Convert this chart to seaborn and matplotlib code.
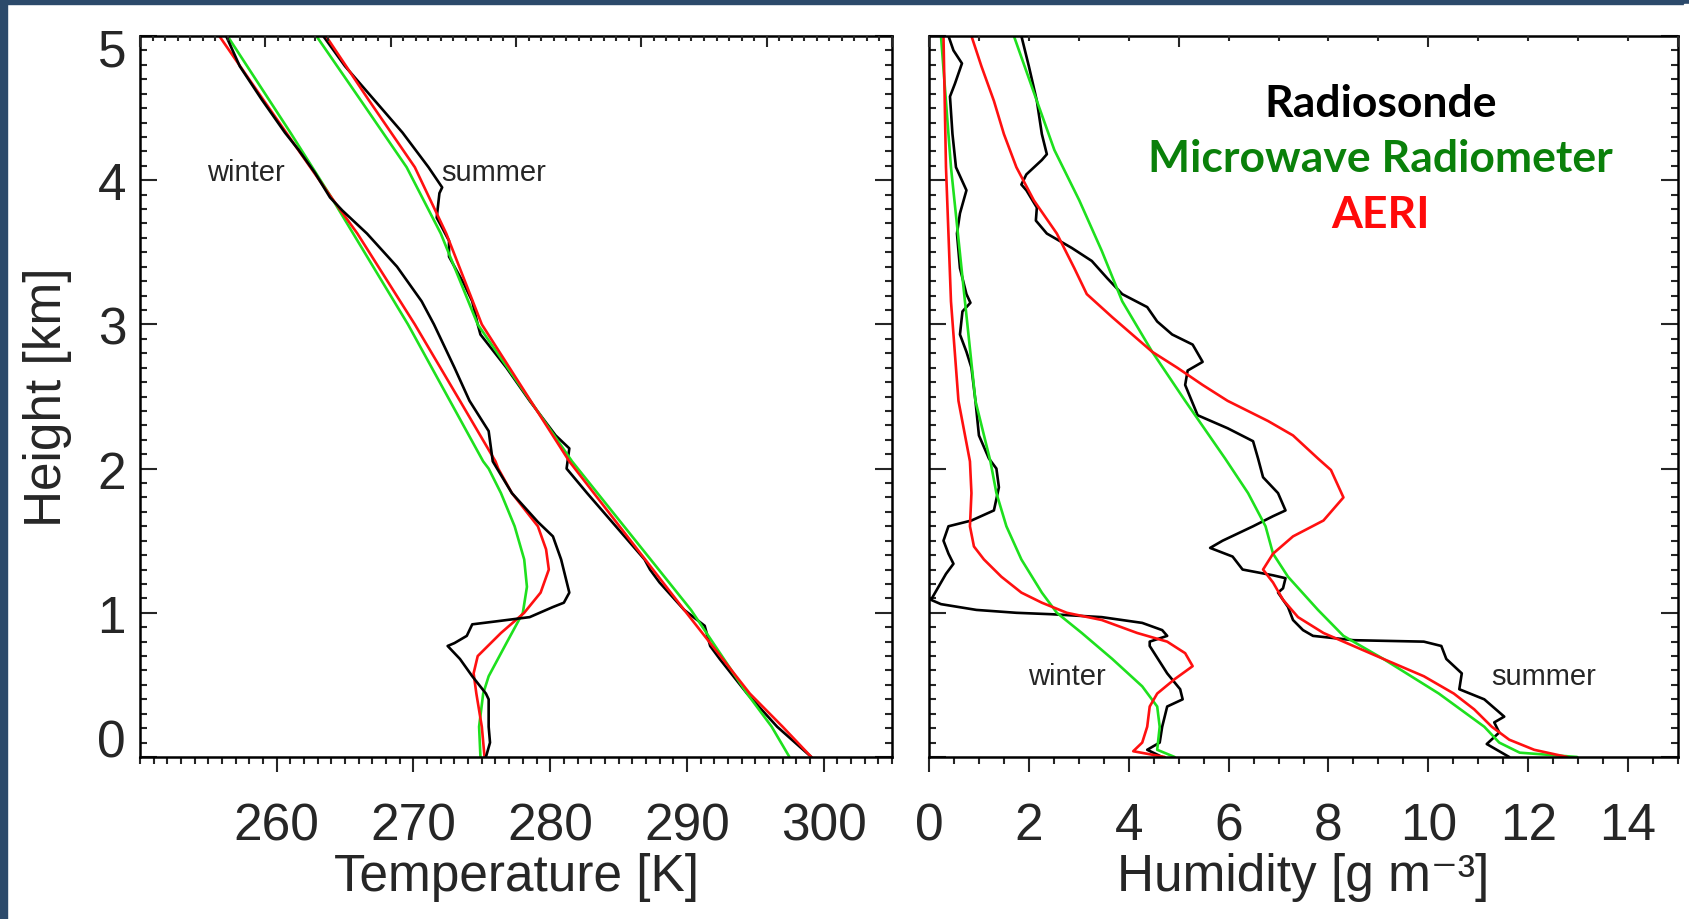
import numpy as np
import pandas as pd
import matplotlib
matplotlib.use("Agg")
import matplotlib.pyplot as plt
from matplotlib.patches import Rectangle
from matplotlib.ticker import MultipleLocator, FixedLocator
from matplotlib.transforms import ScaledTranslation
import seaborn as sns

# ---------------- data: temperature profiles (K) vs height (km) ----------------
tw_sonde_h = [5.0, 4.79, 4.56, 4.33, 4.21, 4.05, 3.88, 3.79, 3.63, 3.40, 3.16, 3.0, 2.70, 2.47,
              2.26, 2.05, 1.83, 1.63, 1.53, 1.37, 1.14, 1.07, 1.04, 0.97, 0.94, 0.92, 0.84, 0.79,
              0.77, 0.68, 0.56, 0.44, 0.40, 0.21, 0.10, 0.0]
tw_sonde_T = [256.3, 257.3, 258.9, 260.6, 261.6, 262.8, 263.9, 264.8, 266.6, 268.8, 270.6, 271.5,
              273.0, 274.1, 275.5, 275.8, 277.2, 279.1, 280.2, 280.8, 281.4, 281.0, 280.2, 278.5,
              276.0, 274.3, 273.9, 273.0, 272.5, 273.4, 274.3, 275.3, 275.5, 275.5, 275.6, 275.3]
tw_aeri_h = [5.0, 4.56, 3.88, 3.63, 3.0, 2.47, 2.05, 2.0, 1.83, 1.60, 1.44, 1.30, 1.14, 1.0,
             0.86, 0.70, 0.58, 0.44, 0.21, 0.0]
tw_aeri_T = [255.8, 259.0, 264.0, 265.9, 270.1, 273.4, 276.0, 276.2, 277.2, 279.1, 279.7, 279.9,
             279.3, 278.1, 276.4, 274.7, 274.4, 274.6, 275.0, 275.2]
tw_mwr_h = [5.0, 4.33, 3.88, 3.0, 2.05, 2.0, 1.83, 1.60, 1.37, 1.18, 1.0, 0.79, 0.56, 0.44, 0.21, 0.0]
tw_mwr_T = [256.4, 261.0, 264.0, 269.6, 275.1, 275.5, 276.4, 277.4, 278.1, 278.3, 278.0, 276.8,
            275.5, 275.1, 274.8, 274.9]

ts_sonde_h = [5.0, 4.79, 4.56, 4.33, 4.09, 3.95, 3.91, 3.74, 3.67, 3.58, 3.47, 3.28, 3.16, 3.0,
              2.93, 2.70, 2.47, 2.23, 2.14, 2.0, 1.83, 1.60, 1.37, 1.30, 1.21, 1.02, 0.91, 0.77,
              0.68, 0.44, 0.21, 0.0]
ts_sonde_T = [263.4, 265.0, 267.1, 269.2, 271.1, 272.1, 271.9, 271.7, 272.1, 272.6, 272.6, 273.7,
              274.3, 274.7, 274.9, 276.8, 278.5, 280.4, 281.4, 281.2, 282.7, 284.8, 286.9, 287.3,
              288.0, 289.8, 291.3, 291.7, 292.4, 294.4, 296.6, 299.1]
ts_aeri_h = [5.0, 4.56, 4.09, 3.63, 3.0, 2.05, 1.02, 0.44, 0.21, 0.0]
ts_aeri_T = [263.6, 266.7, 270.1, 272.4, 275.0, 281.4, 289.8, 294.6, 297.0, 299.1]
ts_mwr_h = [5.0, 4.56, 4.09, 3.63, 3.0, 2.05, 1.02, 0.44, 0.21, 0.0]
ts_mwr_T = [262.9, 266.1, 269.5, 272.0, 274.7, 281.6, 290.3, 294.4, 296.2, 297.5]

# ---------------- data: humidity profiles (g m-3) vs height (km) ----------------
qw_sonde_h = [5.0, 4.90, 4.81, 4.67, 4.58, 4.32, 4.09, 3.93, 3.77, 3.63, 3.39, 3.21, 3.15, 3.09,
              2.93, 2.81, 2.70, 2.47, 2.23, 2.07, 2.0, 1.87, 1.71, 1.64, 1.60, 1.50, 1.41, 1.34,
              1.27, 1.18, 1.09, 1.06, 1.02, 1.0, 0.99, 0.97, 0.93, 0.88, 0.84, 0.80, 0.77, 0.58,
              0.47, 0.40, 0.35, 0.21, 0.10, 0.05, 0.0]
qw_sonde_q = [0.39, 0.49, 0.66, 0.52, 0.42, 0.47, 0.54, 0.75, 0.62, 0.56, 0.62, 0.75, 0.83, 0.67,
              0.62, 0.75, 0.85, 0.93, 1.0, 1.2, 1.35, 1.40, 1.30, 0.85, 0.39, 0.29, 0.39, 0.49,
              0.34, 0.19, 0.04, 0.24, 0.95, 1.75, 2.46, 3.46, 4.27, 4.67, 4.77, 4.42, 4.42, 4.77,
              5.03, 5.08, 4.77, 4.67, 4.62, 4.37, 4.67]
qw_aeri_h = [5.0, 4.09, 3.16, 2.47, 2.05, 1.83, 1.60, 1.46, 1.37, 1.25, 1.14, 1.07, 1.0, 0.95,
             0.86, 0.80, 0.72, 0.63, 0.54, 0.44, 0.35, 0.21, 0.10, 0.04, 0.0]
qw_aeri_q = [0.29, 0.34, 0.44, 0.59, 0.82, 0.85, 0.82, 0.90, 1.10, 1.45, 1.85, 2.26, 2.76, 3.46,
             4.17, 4.77, 5.13, 5.28, 4.92, 4.57, 4.42, 4.37, 4.27, 4.09, 4.72]
qw_mwr_h = [5.0, 4.09, 3.16, 2.47, 2.05, 1.83, 1.60, 1.37, 1.14, 1.0, 0.86, 0.68, 0.49, 0.35,
            0.21, 0.05, 0.0]
qw_mwr_q = [0.24, 0.44, 0.72, 0.93, 1.23, 1.35, 1.55, 1.85, 2.26, 2.56, 3.06, 3.67, 4.27, 4.57,
            4.62, 4.57, 4.92]

qs_sonde_h = [5.0, 4.79, 4.55, 4.32, 4.18, 4.14, 4.04, 3.97, 3.93, 3.81, 3.72, 3.63, 3.53, 3.44,
              3.32, 3.21, 3.12, 3.02, 2.93, 2.86, 2.74, 2.68, 2.58, 2.37, 2.28, 2.19, 2.07, 1.94,
              1.83, 1.71, 1.67, 1.60, 1.50, 1.45, 1.39, 1.30, 1.26, 1.24, 1.17, 1.14, 1.04, 0.95,
              0.88, 0.84, 0.81, 0.80, 0.77, 0.68, 0.58, 0.47, 0.40, 0.28, 0.24, 0.17, 0.09, 0.05,
              0.0]
qs_sonde_q = [1.85, 2.0, 2.16, 2.26, 2.36, 2.26, 1.95, 1.85, 1.95, 2.16, 2.14, 2.36, 2.86, 3.26,
              3.57, 3.87, 4.37, 4.57, 4.87, 5.28, 5.48, 5.18, 5.13, 5.38, 5.98, 6.49, 6.59, 6.69,
              6.99, 7.14, 6.89, 6.49, 5.88, 5.63, 6.08, 6.28, 6.89, 7.14, 7.09, 6.99, 7.19, 7.29,
              7.49, 7.69, 8.50, 9.91, 10.26, 10.36, 10.67, 10.62, 11.12, 11.52, 11.32, 11.42,
              11.17, 11.37, 11.62]
qs_aeri_h = [5.0, 4.79, 4.55, 4.32, 4.09, 3.86, 3.63, 3.39, 3.21, 3.05, 2.93, 2.81, 2.70, 2.58,
             2.47, 2.33, 2.23, 2.07, 1.99, 1.80, 1.64, 1.53, 1.41, 1.30, 1.21, 1.09, 0.97, 0.86,
             0.77, 0.68, 0.56, 0.44, 0.33, 0.21, 0.12, 0.05, 0.0]
qs_aeri_q = [0.85, 1.05, 1.30, 1.50, 1.75, 2.10, 2.56, 2.91, 3.16, 3.67, 4.07, 4.47, 4.97, 5.48,
             5.98, 6.79, 7.29, 7.79, 8.05, 8.30, 7.90, 7.29, 6.89, 6.69, 6.89, 7.09, 7.39, 7.90,
             8.50, 9.10, 9.91, 10.51, 10.92, 11.27, 11.62, 12.12, 12.78]
qs_mwr_h = [5.0, 4.55, 4.21, 3.86, 3.51, 3.16, 2.81, 2.47, 2.07, 1.83, 1.60, 1.41, 1.25, 1.02,
            0.84, 0.68, 0.44, 0.21, 0.10, 0.03, 0.0]
qs_mwr_q = [1.70, 2.16, 2.51, 3.01, 3.46, 3.87, 4.47, 5.13, 5.93, 6.39, 6.74, 6.89, 7.19, 7.79,
            8.30, 9.10, 10.21, 11.12, 11.42, 11.83, 12.98]

temp_ticks = [260, 270, 280, 290, 300]
hum_ticks = [0, 2, 4, 6, 8, 10, 12, 14]
height_ticks = [0, 1, 2, 3, 4, 5]
legend_labels = ["Radiosonde", "Microwave Radiometer", "AERI"]

# ---------------- style ----------------
sns.set_style("ticks")
plt.rcParams["font.family"] = ["Liberation Sans", "DejaVu Sans"]
plt.rcParams["axes.edgecolor"] = "black"
plt.rcParams["axes.linewidth"] = 1.8

C_SONDE = "#000000"
C_MWR = "#1ee01e"
C_AERI = "#ff1010"
C_MWR_TXT = "#0a800a"
LW = 1.9
TICK_FS = 37
LABEL_FS = 37

W, H = 1690, 920
fig = plt.figure(figsize=(W / 100, H / 100), dpi=100, facecolor="white")
axL = fig.add_axes([140 / W, 1 - 758 / H, 752 / W, 721 / H])
axR = fig.add_axes([929 / W, 1 - 758 / H, 749 / W, 721 / H])

# dark slide frame strips (top and left edge only)
fig.patches.append(Rectangle((0, 1 - 5 / H), 1, 5 / H, transform=fig.transFigure,
                             color="#2c4a6b", zorder=0))
fig.patches.append(Rectangle((0, 0), 7 / W, 1, transform=fig.transFigure,
                             color="#2c4a6b", zorder=0))
fig.add_artist(Rectangle((1684 / W, 0), 6 / W, 1 - 5 / H, transform=fig.transFigure,
                         color="white", zorder=10))


def draw(ax, x, y, color):
    sns.lineplot(x=x, y=y, ax=ax, sort=False, estimator=None, color=color,
                 linewidth=LW, legend=False)


# left: temperature
draw(axL, tw_mwr_T, tw_mwr_h, C_MWR)
draw(axL, tw_aeri_T, tw_aeri_h, C_AERI)
draw(axL, tw_sonde_T, tw_sonde_h, C_SONDE)
draw(axL, ts_sonde_T, ts_sonde_h, C_SONDE)
draw(axL, ts_mwr_T, ts_mwr_h, C_MWR)
draw(axL, ts_aeri_T, ts_aeri_h, C_AERI)

# right: humidity
draw(axR, qw_sonde_q, qw_sonde_h, C_SONDE)
draw(axR, qw_mwr_q, qw_mwr_h, C_MWR)
draw(axR, qw_aeri_q, qw_aeri_h, C_AERI)
draw(axR, qs_sonde_q, qs_sonde_h, C_SONDE)
draw(axR, qs_mwr_q, qs_mwr_h, C_MWR)
draw(axR, qs_aeri_q, qs_aeri_h, C_AERI)

axL.set_xlim(250, 305)
axR.set_xlim(0, 15)
for ax in (axL, axR):
    ax.set_ylim(0, 5)
    ax.yaxis.set_major_locator(FixedLocator(height_ticks))
    ax.yaxis.set_minor_locator(MultipleLocator(0.1))
    ax.tick_params(axis="y", which="both", direction="in", left=True, right=True, width=1.5)
    ax.tick_params(axis="y", which="major", length=12, pad=10, labelsize=TICK_FS)
    ax.tick_params(axis="y", which="minor", length=5)
    ax.tick_params(axis="x", which="both", direction="out", bottom=True, top=False, width=1.5)
    ax.tick_params(axis="x", which="major", length=11, pad=21, labelsize=TICK_FS)
    ax.tick_params(axis="x", which="minor", length=5)
    for sp in ax.spines.values():
        sp.set_visible(True)
        sp.set_linewidth(1.8)

axL.xaxis.set_major_locator(FixedLocator(temp_ticks))
axL.xaxis.set_minor_locator(MultipleLocator(1))
axR.xaxis.set_major_locator(FixedLocator(hum_ticks))
axR.xaxis.set_minor_locator(MultipleLocator(0.5))
axR.tick_params(axis="y", labelleft=False)

# top axes with their own tick spacing
for ax, top_lim, top_major, top_minor in ((axL, 6, 1, 0.1), (axR, 15, 5, 1)):
    tw = ax.twiny()
    tw.set_xlim(0, top_lim)
    tw.xaxis.set_major_locator(MultipleLocator(top_major))
    tw.xaxis.set_minor_locator(MultipleLocator(top_minor))
    tw.tick_params(axis="x", which="both", direction="in", top=True, bottom=False,
                   labeltop=False, labelbottom=False, width=1.5)
    tw.tick_params(axis="x", which="major", length=8)
    tw.tick_params(axis="x", which="minor", length=3.5)
    for sp in tw.spines.values():
        sp.set_visible(False)

axL.set_xlabel("Temperature [K]", fontsize=LABEL_FS, labelpad=1)
axR.set_xlabel("Humidity [g m\u207b\u00b3]", fontsize=LABEL_FS, labelpad=1)
axR.set_ylabel("")
axL.set_ylabel("Height [km]", fontsize=LABEL_FS)
axL.yaxis.set_label_coords(-0.090, 0.5)

yt = axL.yaxis.get_major_ticks()
top_lab = yt[-1].label1
top_lab.set_transform(top_lab.get_transform() +
                      ScaledTranslation(0, -11 / 100, fig.dpi_scale_trans))
yt[0].label1.set_va("baseline")

# annotations
axL.text(257.75, 4.06, "winter", fontsize=21, ha="center", va="center")
axL.text(275.9, 4.06, "summer", fontsize=21, ha="center", va="center")
axR.text(2.76, 0.56, "winter", fontsize=21, ha="center", va="center")
axR.text(12.3, 0.56, "summer", fontsize=21, ha="center", va="center")

leg_kw = dict(transform=axR.transAxes, ha="center", va="baseline", fontsize=32,
              fontweight="bold", family=["Lato", "DejaVu Sans"])
axR.text(0.603, 0.889, legend_labels[0], color="black", **leg_kw)
axR.text(0.603, 0.813, legend_labels[1], color=C_MWR_TXT, **leg_kw)
axR.text(0.603, 0.735, legend_labels[2], color="#ff0a0a", **leg_kw)

fig.savefig("out.png", dpi=100, facecolor="white")
